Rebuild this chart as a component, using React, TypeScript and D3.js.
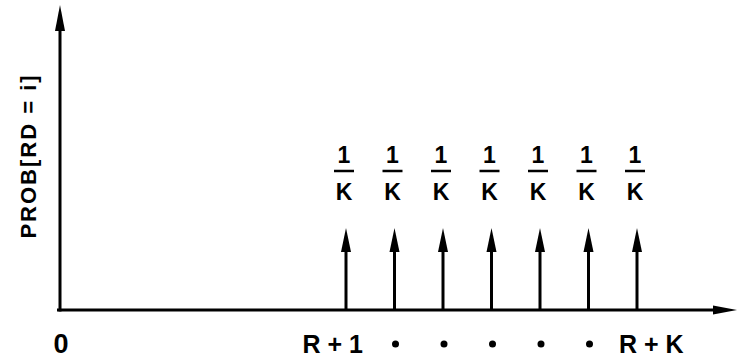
import React from 'react';
import * as d3 from 'd3';

// impulse positions along the axis and their labels
const categories = ['R + 1', 'b2', 'b3', 'b4', 'b5', 'b6', 'R + K'];
const tickLabels = ['R + 1', '•', '•', '•', '•', '•', 'R + K'];
// each impulse has probability 1/K (drawn at unit height)
const probs = [1, 1, 1, 1, 1, 1, 1];
const numerators = ['1', '1', '1', '1', '1', '1', '1'];
const denominators = ['K', 'K', 'K', 'K', 'K', 'K', 'K'];

const width = 746;
const height = 359;
const originX = 60;
const baseY = 310;
const font = '"Liberation Sans", Arial, Helvetica, sans-serif';

const App = () => {
  const x = d3.scalePoint<string>().domain(categories).range([346, 637]);
  const y = d3.scaleLinear().domain([0, 1]).range([baseY, 228]);

  const arrowHead = (tx: number, ty: number, len: number, half: number) =>
    `M${tx},${ty} L${tx - half},${ty + len} L${tx + half},${ty + len} Z`;

  return (
    <svg
      width={width}
      height={height}
      style={{ position: 'absolute', left: 0, top: 0, background: '#fff' }}
      fontFamily={font}
      fontWeight="bold"
    >
      {/* y axis */}
      <line x1={originX} y1={baseY + 1.5} x2={originX} y2={20} stroke="#000" strokeWidth={3} />
      <path d={arrowHead(originX, 5, 26, 5)} fill="#000" />
      {/* x axis */}
      <line x1={57} y1={baseY} x2={720} y2={baseY} stroke="#000" strokeWidth={3} />
      <path d={`M737,${baseY} L713,${baseY - 4.5} L713,${baseY + 4.5} Z`} fill="#000" />

      <text
        transform={`translate(36,156) rotate(-90)`}
        textAnchor="middle"
        fontSize={22}
        letterSpacing={2}
        fill="#000"
      >
        PROB[RD = i]
      </text>

      <text x={61} y={353} textAnchor="middle" fontSize={27} fill="#000">0</text>

      {categories.map((c, i) => {
        const cx = x(c)!;
        const top = y(probs[i]);
        return (
          <g key={c}>
            <line x1={cx} y1={baseY} x2={cx} y2={top + 15} stroke="#000" strokeWidth={3} />
            <path d={arrowHead(cx, top, 24, 5)} fill="#000" />
            <text x={cx - 2} y={163} textAnchor="middle" fontSize={23} fill="#000">
              {numerators[i]}
            </text>
            <line x1={cx - 12} y1={171} x2={cx + 8} y2={171} stroke="#000" strokeWidth={2.5} />
            <text x={cx - 2} y={200} textAnchor="middle" fontSize={23} fill="#000">
              {denominators[i]}
            </text>
          </g>
        );
      })}

      {categories.map((c, i) => {
        const cx = x(c)!;
        if (i === 0)
          return (
            <text key={c} x={cx + 17} y={353} textAnchor="end" fontSize={25} fill="#000">
              {tickLabels[i]}
            </text>
          );
        if (i === categories.length - 1)
          return (
            <text key={c} x={cx - 18} y={353} textAnchor="start" fontSize={25} fill="#000">
              {tickLabels[i]}
            </text>
          );
        return <circle key={c} cx={cx + 1} cy={344} r={3.5} fill="#000" />;
      })}
    </svg>
  );
};

export default App;
